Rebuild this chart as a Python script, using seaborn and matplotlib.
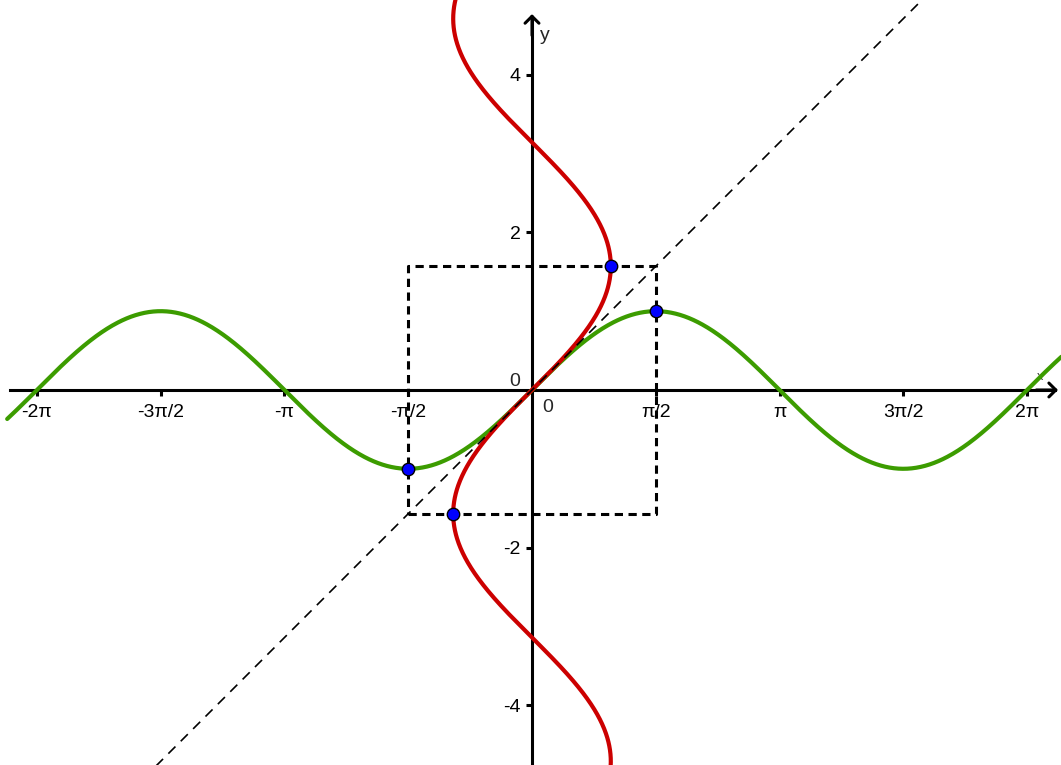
import numpy as np
import pandas as pd
import matplotlib
matplotlib.use("Agg")
import matplotlib.pyplot as plt
import seaborn as sns

PI = np.pi

# Tick positions and labels
x_tick_values = [-2 * PI, -3 * PI / 2, -PI, -PI / 2, PI / 2, PI, 3 * PI / 2, 2 * PI]
x_tick_labels = ["-2π", "-3π/2", "-π", "-π/2", "π/2", "π", "3π/2", "2π"]
y_tick_values = [-4, -2, 2, 4]
y_tick_labels = ["-4", "-2", "2", "4"]

# Marked points: extrema of sin on [-π/2, π/2] and their mirror images in y = x
point_x = [PI / 2, -PI / 2, 1.0, -1.0]
point_y = [1.0, -1.0, PI / 2, -PI / 2]

# Square [-π/2, π/2] x [-π/2, π/2]
box_x = [-PI / 2, PI / 2, PI / 2, -PI / 2, -PI / 2]
box_y = [-PI / 2, -PI / 2, PI / 2, PI / 2, -PI / 2]

# Visible window
x_lo, x_hi = -6.751, 6.713
y_lo, y_hi = -4.759, 4.949

# Curves: y = sin(x) and its reflection x = sin(y)
t_x = np.linspace(-6.66, 6.9, 1200)
sine = pd.DataFrame({"x": t_x, "y": np.sin(t_x)})
t_y = np.linspace(-5.2, 5.2, 1200)
inverse = pd.DataFrame({"x": np.sin(t_y), "y": t_y})

sns.set_style("white")
plt.rcParams["font.family"] = ["Liberation Sans", "DejaVu Sans"]

fig = plt.figure(figsize=(10.61, 7.65), dpi=100)
ax = fig.add_axes([0, 0, 1, 1])

GREEN = "#3c9c00"
RED = "#cc0000"

sns.lineplot(data=sine, x="x", y="y", sort=False, estimator=None,
             color=GREEN, lw=3.0, ax=ax, zorder=4)
sns.lineplot(data=inverse, x="x", y="y", sort=False, estimator=None,
             color=RED, lw=3.0, ax=ax, zorder=5)

# Line y = x
diag = np.array([-6.5, 6.5])
ax.plot(diag, diag, color="black", lw=1.2, dashes=(6, 4.5), zorder=6)

# Dashed square
ax.plot(box_x, box_y, color="black", lw=2.2, dashes=(2.7, 1.8), zorder=6)

sns.scatterplot(x=point_x, y=point_y, color="#0000ff", edgecolor="black",
                linewidth=1.0, s=80, ax=ax, zorder=8)

ax.set_xlim(x_lo, x_hi)
ax.set_ylim(y_lo, y_hi)
ax.set_aspect("equal")

# Axes through the origin
for side in ("top", "right"):
    ax.spines[side].set_visible(False)
ax.spines["left"].set_position(("data", 0))
ax.spines["bottom"].set_position(("data", 0))
ax.spines["left"].set_bounds(y_lo, 4.72)
ax.spines["bottom"].set_bounds(-6.624, 6.64)
for side in ("left", "bottom"):
    ax.spines[side].set_linewidth(2.2)
    ax.spines[side].set_color("black")
    ax.spines[side].set_zorder(3)

ax.set_xticks(x_tick_values)
ax.set_xticklabels(x_tick_labels)
ax.set_yticks(y_tick_values)
ax.set_yticklabels(y_tick_labels)
ax.tick_params(axis="both", direction="out", length=4, width=2.2,
               color="black", labelsize=14, labelcolor="black",
               bottom=True, left=True, top=False, right=False)
ax.tick_params(axis="x", pad=6)
ax.tick_params(axis="y", pad=4)

# Arrow heads
arrow = dict(arrowstyle="->,head_length=0.5,head_width=0.5", lw=2.2,
             color="black", mutation_scale=10, shrinkA=0, shrinkB=0)
ax.annotate("", xy=(6.675, 0), xytext=(6.4, 0), arrowprops=arrow, zorder=3)
ax.annotate("", xy=(0, 4.77), xytext=(0, 4.5), arrowprops=arrow, zorder=3)

# Axis names and origin labels
ax.text(0.165, 4.5, "y", fontsize=14, ha="center", va="center")
ax.text(6.447, 0.165, "x", fontsize=9, ha="center", va="center", color="#333333")
ax.text(-0.216, 0.114, "0", fontsize=14, ha="center", va="center")
ax.text(0.203, -0.216, "0", fontsize=14, ha="center", va="center")

ax.set_xlabel("")
ax.set_ylabel("")
if ax.get_legend() is not None:
    ax.get_legend().remove()

fig.savefig("out.png", dpi=100)
